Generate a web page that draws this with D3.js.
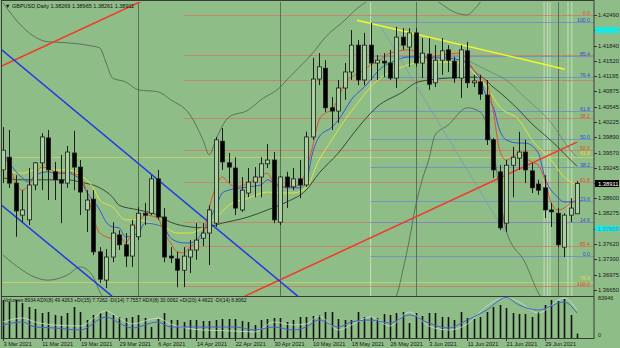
<!DOCTYPE html>
<html>
<head>
<meta charset="utf-8">
<script src="https://cdn.jsdelivr.net/npm/d3@7"></script>
<style>
  body { margin: 0; background: #8fbd88; }
  svg text { font-family: "Liberation Sans", Arial, sans-serif; }
</style>
</head>
<body>
<div id="chart"></div>
<script>
// GBPUSD daily, 3 Mar 2021 (bar 0) .. 6 Jul 2021 (bar 89)
const opens = [
  1.3920, 1.3947, 1.3892, 1.3824, 1.3814, 1.3888, 1.3935, 1.3988, 1.3916, 1.3899,
  1.3892, 1.3956, 1.3926, 1.3835, 1.3858, 1.3746, 1.3686, 1.3735, 1.3782, 1.3761,
  1.3737, 1.3778, 1.3828, 1.3828, 1.3901, 1.3820, 1.3737, 1.3731, 1.3707, 1.3735,
  1.3750, 1.3775, 1.3786, 1.3807, 1.3981, 1.3935, 1.3924, 1.3835, 1.3871, 1.3894,
  1.3905, 1.3933, 1.3941, 1.3809, 1.3905, 1.3884, 1.3901, 1.3888, 1.3990, 1.4113,
  1.4136, 1.4052, 1.4045, 1.4094, 1.4128, 1.4185, 1.4111, 1.4185, 1.4147, 1.4151,
  1.4147, 1.4115, 1.4202, 1.4181, 1.4211, 1.4147, 1.4166, 1.4105, 1.4153, 1.4175,
  1.4151, 1.4115, 1.4173, 1.4105, 1.4107, 1.4079, 1.3984, 1.3916, 1.3807, 1.3930,
  1.3945, 1.3958, 1.3918, 1.3890, 1.3882, 1.3835, 1.3828, 1.3756, 1.3824, 1.38269
];
const highs = [
  1.4011, 1.4005, 1.3909, 1.3877, 1.3924, 1.3937, 1.3998, 1.4005, 1.3937, 1.3952,
  1.3971, 1.4003, 1.3941, 1.3877, 1.3877, 1.3756, 1.3752, 1.3809, 1.3792, 1.3786,
  1.3814, 1.3841, 1.3850, 1.3909, 1.3920, 1.3839, 1.3756, 1.3746, 1.3756, 1.3771,
  1.3807, 1.3807, 1.3845, 1.3990, 1.4009, 1.3956, 1.3947, 1.3905, 1.3924, 1.3926,
  1.3947, 1.3975, 1.3958, 1.3907, 1.3916, 1.3924, 1.3941, 1.4001, 1.4158, 1.4168,
  1.4153, 1.4075, 1.4111, 1.4147, 1.4217, 1.4196, 1.4211, 1.4232, 1.4164, 1.4168,
  1.4175, 1.4224, 1.4221, 1.4221, 1.4221, 1.4200, 1.4200, 1.4185, 1.4200, 1.4185,
  1.4160, 1.4185, 1.4192, 1.4122, 1.4122, 1.4111, 1.3988, 1.3930, 1.3941, 1.3969,
  1.4001, 1.3984, 1.3935, 1.3899, 1.3909, 1.3850, 1.3839, 1.3828, 1.3860, 1.38965
];
const lows = [
  1.3892, 1.3882, 1.3778, 1.3809, 1.3803, 1.3877, 1.3877, 1.3856, 1.3856, 1.3807,
  1.3882, 1.3877, 1.3824, 1.3788, 1.3739, 1.3680, 1.3669, 1.3724, 1.3750, 1.3714,
  1.3714, 1.3771, 1.3803, 1.3824, 1.3814, 1.3724, 1.3722, 1.3671, 1.3671, 1.3701,
  1.3729, 1.3758, 1.3718, 1.3799, 1.3920, 1.3892, 1.3824, 1.3831, 1.3862, 1.3862,
  1.3862, 1.3924, 1.3807, 1.3803, 1.3839, 1.3877, 1.3860, 1.3884, 1.3984, 1.4100,
  1.4043, 1.4005, 1.4020, 1.4069, 1.4111, 1.4100, 1.4100, 1.4111, 1.4111, 1.4117,
  1.4111, 1.4094, 1.4175, 1.4139, 1.4139, 1.4115, 1.4090, 1.4096, 1.4122, 1.4128,
  1.4105, 1.4073, 1.4094, 1.4096, 1.4069, 1.3973, 1.3903, 1.3792, 1.3788, 1.3862,
  1.3920, 1.3892, 1.3871, 1.3867, 1.3818, 1.3799, 1.3756, 1.3735, 1.3809, 1.38261
];
const closes = [
  1.3962, 1.3892, 1.3833, 1.3835, 1.3888, 1.3935, 1.3990, 1.3920, 1.3899, 1.3892,
  1.3958, 1.3926, 1.3873, 1.3856, 1.3746, 1.3688, 1.3735, 1.3786, 1.3761, 1.3737,
  1.3803, 1.3828, 1.3824, 1.3901, 1.3820, 1.3735, 1.3733, 1.3707, 1.3737, 1.3750,
  1.3771, 1.3786, 1.3835, 1.3984, 1.3937, 1.3926, 1.3839, 1.3877, 1.3894, 1.3905,
  1.3933, 1.3941, 1.3814, 1.3905, 1.3884, 1.3901, 1.3888, 1.3990, 1.4113, 1.4139,
  1.4052, 1.4045, 1.4094, 1.4128, 1.4185, 1.4111, 1.4185, 1.4147, 1.4153, 1.4147,
  1.4115, 1.4202, 1.4185, 1.4211, 1.4147, 1.4168, 1.4102, 1.4153, 1.4173, 1.4153,
  1.4115, 1.4175, 1.4105, 1.4109, 1.4081, 1.3984, 1.3920, 1.3797, 1.3930, 1.3947,
  1.3958, 1.3920, 1.3882, 1.3877, 1.3835, 1.3831, 1.3761, 1.3824, 1.3839, 1.38911
];
const volumes = [
  77800, 73700, 77800, 71600, 63500, 59400, 51200, 53200, 47100, 45000,
  51200, 63500, 53200, 36800, 47100, 51200, 55300, 47100, 43000, 40900,
  43000, 47100, 40900, 22500, 38900, 51200, 36800, 36800, 32800, 36800,
  36800, 34800, 34800, 36800, 38900, 38900, 38900, 34800, 32800, 26600,
  36800, 38900, 40900, 40900, 32800, 36800, 43000, 43000, 45000, 47100,
  53200, 53200, 38900, 36800, 36800, 53200, 43000, 43000, 40900, 49100,
  47100, 51200, 53200, 30700, 51200, 45000, 51200, 51200, 43000, 43000,
  36800, 53200, 40900, 38900, 43000, 53200, 63500, 67600, 61400, 51200,
  49100, 49100, 43000, 53200, 67600, 77800, 75700, 79800, 47100, 8934
];

// x-axis date labels (bar index, text)
const dateTickIdx = [0, 6, 12, 18, 24, 30, 36, 42, 48, 54, 60, 66, 72, 78, 84];
const dateTickText = ["3 Mar 2021", "11 Mar 2021", "19 Mar 2021", "29 Mar 2021", "6 Apr 2021",
  "14 Apr 2021", "22 Apr 2021", "30 Apr 2021", "10 May 2021", "18 May 2021", "26 May 2021",
  "3 Jun 2021", "11 Jun 2021", "21 Jun 2021", "29 Jun 2021"];

// right price scale
const priceTicks = [1.42490, 1.42170, 1.41840, 1.41520, 1.41195, 1.40875, 1.40545, 1.40225,
  1.39890, 1.39570, 1.39245, 1.38915, 1.38600, 1.38275, 1.37950, 1.37620, 1.37300, 1.36975, 1.36650];

// moving averages as [bar, price]
const maRed = [[0,1.3956],[1,1.3926],[2,1.3892],[3,1.3877],[4,1.3888],[5,1.3909],[6,1.3926],[7,1.3924],
  [8,1.3916],[9,1.3913],[10,1.3916],[11,1.3913],[12,1.3905],[13,1.3873],[14,1.3820],[15,1.3786],[17,1.3775],
  [18,1.3782],[19,1.3765],[20,1.3786],[21,1.3807],[22,1.3824],[24,1.3818],[25,1.3786],[26,1.3765],[27,1.3746],
  [28,1.3744],[29,1.3756],[30,1.3767],[31,1.3782],[32,1.3841],[33,1.3884],[34,1.3905],[35,1.3892],[36,1.3884],
  [38,1.3892],[39,1.3899],[41,1.3913],[42,1.3892],[43,1.3884],[44,1.3884],[46,1.3888],[47,1.3920],[48,1.3969],
  [49,1.4026],[50,1.4041],[51,1.4047],[52,1.4073],[53,1.4105],[54,1.4117],[56,1.4132],[57,1.4143],[58,1.4149],
  [60,1.4168],[63,1.4175],[66,1.4160],[68,1.4164],[71,1.4168],[72,1.4153],[73,1.4132],[75,1.4105],[76,1.4047],
  [77,1.3962],[78,1.3941],[79,1.3947],[80,1.3956],[81,1.3945],[82,1.3937],[83,1.3930],[84,1.3899],[85,1.3850],
  [86,1.3835],[87,1.3839],[88,1.3850],[89,1.3856]];
const maBlue = [[0,1.3958],[1,1.3935],[3,1.3903],[4,1.3894],[5,1.3909],[7,1.3916],[8,1.3913],[10,1.3913],
  [11,1.3909],[12,1.3899],[13,1.3873],[15,1.3835],[16,1.3809],[17,1.3799],[18,1.3797],[19,1.3778],[21,1.3786],
  [22,1.3807],[24,1.3803],[25,1.3797],[26,1.3775],[28,1.3765],[29,1.3765],[30,1.3771],[32,1.3814],[33,1.3841],
  [34,1.3871],[35,1.3877],[37,1.3882],[38,1.3884],[40,1.3888],[41,1.3899],[42,1.3892],[44,1.3882],[46,1.3882],
  [47,1.3895],[48,1.3956],[49,1.3990],[51,1.4011],[52,1.4026],[53,1.4047],[54,1.4069],[56,1.4096],[57,1.4111],
  [58,1.4128],[61,1.4153],[63,1.4160],[66,1.4158],[68,1.4158],[71,1.4153],[73,1.4132],[74,1.4111],[75,1.4075],
  [76,1.4054],[77,1.4005],[78,1.3984],[80,1.3977],[81,1.3977],[83,1.3956],[84,1.3905],[86,1.3862],[87,1.3852],
  [89,1.3852]];
const maYellow = [[0,1.3920],[3,1.3913],[5,1.3920],[7,1.3920],[10,1.3920],[12,1.3909],[14,1.3882],[15,1.3856],
  [17,1.3841],[19,1.3814],[21,1.3814],[23,1.3807],[25,1.3799],[27,1.3786],[29,1.3786],[31,1.3797],[33,1.3818],
  [35,1.3845],[38,1.3860],[41,1.3873],[43,1.3871],[45,1.3871],[47,1.3882],[49,1.3941],[51,1.3984],[53,1.4026],
  [55,1.4062],[57,1.4096],[59,1.4120],[62,1.4139],[65,1.4149],[68,1.4149],[71,1.4147],[73,1.4126],[75,1.4096],
  [77,1.4054],[80,1.4026],[82,1.3984],[85,1.3941],[87,1.3905],[89,1.3888]];
const maSlow = [[0,1.3903],[3,1.3899],[6,1.3899],[10,1.3899],[12,1.3894],[15,1.3882],[17,1.3862],[18,1.3845],
  [21,1.3835],[24,1.3824],[26,1.3809],[29,1.3799],[31,1.3797],[34,1.3807],[38,1.3820],[41,1.3835],[44,1.3852],
  [47,1.3877],[49,1.3913],[52,1.3956],[55,1.4009],[58,1.4054],[62,1.4086],[64,1.4105],[66,1.4111],[69,1.4115],
  [72,1.4117],[74,1.4117],[76,1.4096],[78,1.4073],[80,1.4047],[82,1.4018],[84,1.3994],[86,1.3969],[88,1.3941],
  [89,1.3928]];
const bandMid = [[72,1.4153],[75,1.4132],[78,1.4111],[81,1.4073],[85,1.4020],[88,1.3962],[89,1.3947]];
const bandUp = [[0,1.4275],[3,1.4224],[5,1.4202],[7,1.4192],[10,1.4190],[13,1.4185],[15,1.4179],[16,1.4147],
  [17,1.4115],[19,1.4107],[21,1.4090],[24,1.4086],[26,1.4069],[29,1.4037],[31,1.3984],[32,1.3952],[33,1.3984],
  [35,1.4032],[38,1.4047],[40,1.4069],[43,1.4096],[44,1.4111],[48,1.4168],[50,1.4202],[53,1.4238],[55,1.4264],
  [62,1.4302],[67,1.4281],[70,1.4255],[72,1.4249],[73,1.4260],[75,1.4292],[80,1.4323],[89,1.4345]];
const bandLow = [[0,1.3739],[7,1.3686],[10,1.3697],[12,1.3714],[14,1.3693],[15,1.3661],[17,1.3633],
  [31,1.3601],[46,1.3580],[58,1.3601],[61,1.3652],[62,1.3707],[63,1.3771],[64,1.3845],[65,1.3899],
  [66,1.3941],[67,1.3994],[69,1.4015],[72,1.4052],[74,1.4043],[76,1.3962],[78,1.3792],[81,1.3722],
  [83,1.3659],[85,1.3622],[89,1.3580]];

// volume panel lines
const volBlue = [[0,26600],[3,32800],[5,22500],[8,20500],[12,16400],[16,43000],[18,30700],[20,20500],
  [24,32800],[26,22500],[31,22500],[36,22500],[39,16400],[42,22500],[45,16400],[47,22500],[49,36800],
  [52,22500],[54,32800],[57,36800],[60,30700],[63,47100],[66,30700],[69,20500],[72,36800],[75,57300],
  [78,83000],[80,67600],[83,57300],[87,73700],[89,51200]];
const volWhite = [[0,32800],[3,40900],[5,32800],[8,26600],[12,24600],[16,55300],[18,40900],[20,28700],
  [24,40900],[26,28700],[31,16400],[36,14300],[39,12300],[42,32800],[45,26600],[47,28700],[49,45000],
  [52,16400],[54,26600],[57,43000],[60,24600],[63,53200],[66,24600],[69,16400],[72,28700],[75,65500],
  [78,83000],[80,73700],[83,51200],[87,81900],[89,57300]];

// trend lines: [[bar, price], [bar, price]]
const trendRedTop = [[-0.6, 1.4138], [21.6, 1.4279]];
const trendRedUp = [[37.5, 1.3652], [89, 1.3979]];
const trendBlueHigh = [[-0.2, 1.4175], [45.7, 1.3652]];
const trendBlueLow = [[-0.2, 1.3845], [16.9, 1.3652]];
const trendYellow = [[54.9, 1.4238], [87.1, 1.4134]];
const trendSteel = [[58.4, 1.4228], [77.8, 1.3788]];

// fibonacci levels
const fibRedStart = 28;
const fibRedPrice = [1.4249, 1.4164, 1.4111, 1.4030, 1.3962, 1.3894, 1.3809, 1.3758, 1.3673];
const fibRedText = ["0.0", "", "", "38.2", "50.0", "61.8", "", "85.4", "100.0"];
const fibBlueStart = 57;
const fibBluePrice = [1.4234, 1.4162, 1.4117, 1.4045, 1.3986, 1.3926, 1.3854, 1.3809, 1.3737];
const fibBlueText = ["100.0", "85.4", "76.4", "61.8", "50.0", "38.2", "23.6", "14.6", "0.0"];
const fibYellowPrice = [1.3947, 1.3682];
const fibYellowText = ["61.8", "76.4"];

const monthSeps = [21, 43, 64, 86];
const lightVerts = [57, 83.9, 84.4, 84.8, 87.6, 88.2];

const lastPrice = 1.38911;
const markPrices = [1.42170, 1.37955];

// ---------------------------------------------------------------
var W = 620, H = 348;
var right = 594, mainTop = 2, mainBottom = 296, panelBottom = 338;

var svg = d3.select("#chart").append("svg")
    .attr("width", W)
    .attr("height", H);

var xScale = d3.scaleLinear().domain([0, 89]).range([3, 577]);
var yScale = d3.scaleLinear().domain([1.3665, 1.4249]).range([290, 15]);
var vScale = d3.scaleLinear().domain([0, 83946]).range([panelBottom, 297]);

var defs = svg.append("defs");
defs.append("clipPath").attr("id", "clipMain").append("rect")
    .attr("x", 2).attr("y", mainTop).attr("width", right - 2).attr("height", mainBottom - mainTop);
defs.append("clipPath").attr("id", "clipPanel").append("rect")
    .attr("x", 2).attr("y", mainBottom + 1).attr("width", right - 2).attr("height", panelBottom - mainBottom - 1);

svg.append("rect").attr("width", W).attr("height", H).attr("fill", "#8fbd88");

var main = svg.append("g").attr("clip-path", "url(#clipMain)");

// vertical lines
main.selectAll(".lv").data(lightVerts).enter().append("line")
    .attr("x1", d => xScale(d)).attr("x2", d => xScale(d))
    .attr("y1", mainTop).attr("y2", mainBottom)
    .attr("stroke", "#d4e8cc").attr("stroke-width", 0.8);

// fib levels
function fibSet(prices, texts, startBar, color, textColor, lift) {
    var g = main.append("g");
    g.selectAll("line").data(prices).enter().append("line")
        .attr("x1", startBar === null ? 2 : xScale(startBar))
        .attr("x2", right)
        .attr("y1", d => Math.round(yScale(d)) + 0.5)
        .attr("y2", d => Math.round(yScale(d)) + 0.5)
        .attr("stroke", color).attr("stroke-width", 0.8);
    g.selectAll("text").data(prices).enter().append("text")
        .attr("x", right - 4)
        .attr("y", d => Math.round(yScale(d)) - lift)
        .attr("text-anchor", "end")
        .attr("font-size", "5.2px")
        .attr("fill", textColor)
        .text((d, i) => texts[i]);
}
fibSet(fibYellowPrice, fibYellowText, null, "#cfd36a", "#e8e020", 1.8);
fibSet(fibRedPrice, fibRedText, fibRedStart, "#d07a62", "#e04a30", 0);
fibSet(fibBluePrice, fibBlueText, fibBlueStart, "#6d88cc", "#2f4fd0", 0.5);

main.selectAll(".ms").data(monthSeps).enter().append("line")
    .attr("x1", d => Math.round(xScale(d)) + 0.5).attr("x2", d => Math.round(xScale(d)) + 0.5)
    .attr("y1", mainTop).attr("y2", mainBottom)
    .attr("stroke", "#4d5d4d").attr("stroke-width", 0.8);

// indicator lines
var line = d3.line()
    .x(d => xScale(d[0]))
    .y(d => yScale(d[1]))
    .curve(d3.curveMonotoneX);

function drawSeries(data, color, width) {
    main.append("path").datum(data)
        .attr("d", line)
        .attr("fill", "none")
        .attr("stroke", color)
        .attr("stroke-width", width);
}
drawSeries(bandUp, "#4f5f4f", 0.8);
drawSeries(bandLow, "#4f5f4f", 0.8);
drawSeries(bandMid, "#6f806f", 0.8);
drawSeries(maSlow, "#2d3d2d", 0.9);
drawSeries(maYellow, "#e3e53c", 1);
drawSeries(maBlue, "#3158d8", 1);
drawSeries(maRed, "#e2502c", 1);

// trend lines
var straight = d3.line().x(d => xScale(d[0])).y(d => yScale(d[1]));
function drawTrend(data, color, width) {
    main.append("path").datum(data)
        .attr("d", straight)
        .attr("stroke", color)
        .attr("stroke-width", width)
        .attr("fill", "none");
}
drawTrend(trendSteel, "#7f97b4", 0.8);
drawTrend(trendRedTop, "#f03a2a", 1.5);
drawTrend(trendRedUp, "#f03a2a", 1.5);
drawTrend(trendBlueHigh, "#1f3ce0", 1.5);
drawTrend(trendBlueLow, "#1f3ce0", 1.5);
drawTrend(trendYellow, "#f4f430", 1.5);

// candles
var idx = d3.range(opens.length);
main.selectAll(".wick").data(idx).enter().append("line")
    .attr("x1", i => Math.round(xScale(i)) + 0.5)
    .attr("x2", i => Math.round(xScale(i)) + 0.5)
    .attr("y1", i => yScale(highs[i]))
    .attr("y2", i => yScale(lows[i]))
    .attr("stroke", "#1c1c1c")
    .attr("stroke-width", 1);

main.selectAll(".body").data(idx).enter().append("rect")
    .attr("x", i => Math.round(xScale(i)) - 1.5)
    .attr("y", i => yScale(Math.max(opens[i], closes[i])))
    .attr("width", 4)
    .attr("height", i => Math.max(0.8, Math.abs(yScale(opens[i]) - yScale(closes[i]))))
    .attr("fill", i => closes[i] >= opens[i] ? "#a9d0a0" : "#000")
    .attr("stroke", "#1c1c1c")
    .attr("stroke-width", 0.8);

// volume panel
var panel = svg.append("g").attr("clip-path", "url(#clipPanel)");
panel.selectAll(".vol").data(idx).enter().append("line")
    .attr("x1", i => Math.round(xScale(i)) + 0.5)
    .attr("x2", i => Math.round(xScale(i)) + 0.5)
    .attr("y1", vScale(0))
    .attr("y2", i => vScale(volumes[i]))
    .attr("stroke", "#111")
    .attr("stroke-width", 1.6);

var vLine = d3.line().x(d => xScale(d[0])).y(d => vScale(d[1])).curve(d3.curveMonotoneX);
panel.append("path").datum(volWhite).attr("d", vLine)
    .attr("fill", "none").attr("stroke", "#d6e8d0").attr("stroke-width", 0.7);
panel.append("path").datum(volBlue).attr("d", vLine)
    .attr("fill", "none").attr("stroke", "#3f62d4").attr("stroke-width", 1);

// frame
svg.append("rect").attr("x", 1.5).attr("y", 0.5).attr("width", right - 1.5).attr("height", panelBottom)
    .attr("fill", "none").attr("stroke", "#3a3a3a").attr("stroke-width", 1);
svg.append("line").attr("x1", 1.5).attr("x2", right).attr("y1", mainBottom + 0.5).attr("y2", mainBottom + 0.5)
    .attr("stroke", "#3a3a3a").attr("stroke-width", 1.2);

// price axis
svg.selectAll(".pt").data(priceTicks).enter().append("line")
    .attr("x1", right).attr("x2", right + 3)
    .attr("y1", d => Math.round(yScale(d)) + 0.5)
    .attr("y2", d => Math.round(yScale(d)) + 0.5)
    .attr("stroke", "#333");
svg.selectAll(".pl").data(priceTicks).enter().append("text")
    .attr("x", right + 4)
    .attr("y", d => yScale(d) + 2)
    .attr("font-size", "5.8px")
    .attr("fill", "#1a1a1a")
    .text(d => d.toFixed(5));

// marked levels (cyan) and current price (black)
svg.selectAll(".mk").data(markPrices).enter().append("rect")
    .attr("x", right + 1).attr("y", d => yScale(d) - 3)
    .attr("width", 24).attr("height", 6)
    .attr("fill", "#16e8e8");
svg.append("text")
    .attr("x", right + 4).attr("y", yScale(markPrices[1]) + 2)
    .attr("font-size", "5.8px").attr("fill", "#6a8a8a")
    .text(markPrices[1].toFixed(5));

svg.append("rect")
    .attr("x", right + 1).attr("y", yScale(lastPrice) - 3.5)
    .attr("width", 24).attr("height", 7)
    .attr("fill", "#000");
svg.append("text")
    .attr("x", right + 4).attr("y", yScale(lastPrice) + 2)
    .attr("font-size", "5.8px").attr("fill", "#fff")
    .text(lastPrice.toFixed(5));

// panel scale
svg.append("text").attr("x", right + 4).attr("y", vScale(83946) + 3)
    .attr("font-size", "5.5px").attr("fill", "#1a1a1a").text("83946");
svg.append("text").attr("x", right + 4).attr("y", vScale(0) - 1)
    .attr("font-size", "5.5px").attr("fill", "#1a1a1a").text("0");

// date axis
svg.selectAll(".dt").data(dateTickIdx).enter().append("line")
    .attr("x1", i => Math.round(xScale(i)) + 0.5).attr("x2", i => Math.round(xScale(i)) + 0.5)
    .attr("y1", panelBottom + 0.5).attr("y2", panelBottom + 3)
    .attr("stroke", "#333");
svg.selectAll(".dl").data(dateTickIdx).enter().append("text")
    .attr("x", i => xScale(i) + 0.5)
    .attr("y", 345.5)
    .attr("font-size", "5.6px")
    .attr("fill", "#1a1a1a")
    .text((d, k) => dateTickText[k]);

// headers
svg.append("text").attr("x", 5).attr("y", 7.5)
    .attr("font-size", "5.5px").attr("fill", "#111")
    .text("\u25BC GBPUSD,Daily  1.38269 1.38965 1.38261 1.38911");
svg.append("text").attr("x", 4).attr("y", mainBottom + 6)
    .attr("font-size", "5px").attr("fill", "#111")
    .text("Volumes 8934  ADX(8) 49.4263 +DI(15) 7.7262 -DI(14) 7.7557  ADX(8) 30.0062 +DI(20) 4.4622 -DI(14) 8.8062");
</script>
</body>
</html>
